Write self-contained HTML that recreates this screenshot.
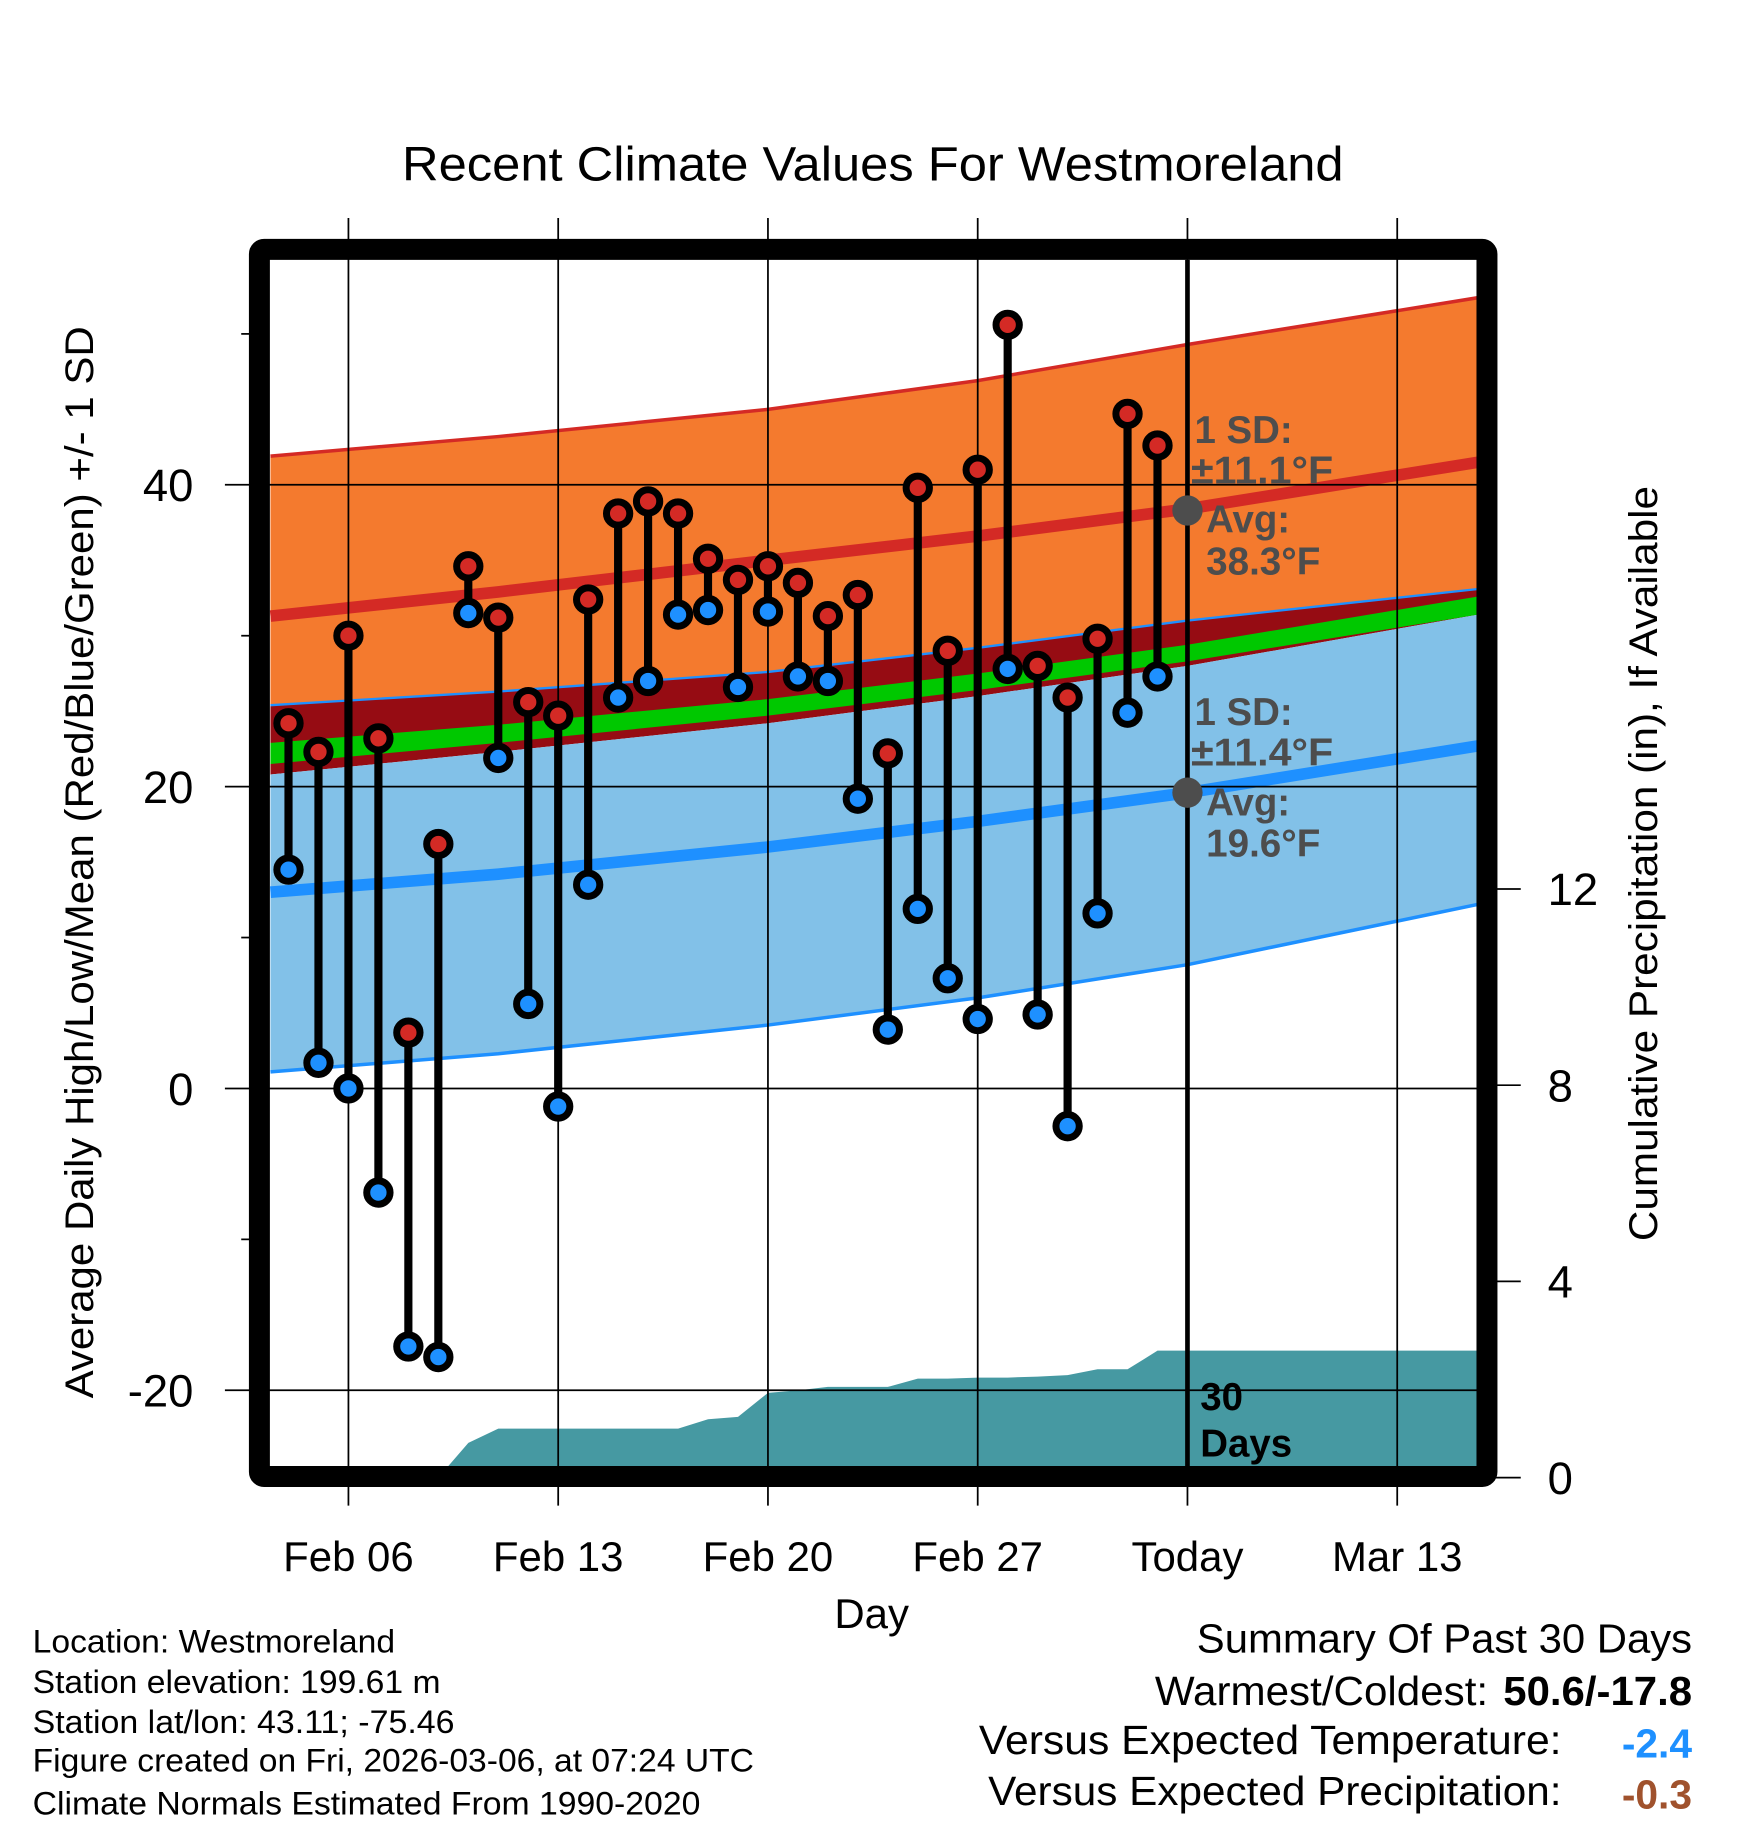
<!DOCTYPE html>
<html><head><meta charset="utf-8"><style>
html,body{margin:0;padding:0;background:#fff;}
svg{display:block;font-family:"Liberation Sans",Arial,sans-serif;}
</style></head><body>
<svg id="chart" width="1748" height="1828" viewBox="0 0 1500 1568.6" xmlns="http://www.w3.org/2000/svg">
<g id="bands"></g>
<g id="precip"></g>
<g id="grid"></g>
<g id="series"></g>
<g id="annot"></g>
<g id="axes"></g>
</svg>
<script>
// ---- data ----
const days = [-2,-1,0,1,2,3,4,5,6,7,8,9,10,11,12,13,14,15,16,17,18,19,20,21,22,23,24,25,26,27];
const highs = [24.2,22.3,30.0,23.2,3.7,16.2,34.6,31.2,25.6,24.7,32.4,38.1,38.9,38.1,35.1,33.7,34.6,33.5,31.3,32.7,22.2,39.8,29.0,41.0,50.6,28.0,25.9,29.8,44.7,42.6];
const lows = [14.5,1.7,0.0,-6.9,-17.1,-17.8,31.5,21.9,5.6,-1.2,13.5,25.9,27.0,31.4,31.7,26.6,31.6,27.3,27.0,19.2,3.9,11.9,7.3,4.6,27.8,4.9,-2.5,11.6,24.9,27.3];
const precip = [0,0,0,0,0,0,0.71,1.0,1.0,1.0,1.0,1.0,1.0,1.0,1.19,1.24,1.73,1.78,1.85,1.85,1.85,2.02,2.02,2.04,2.04,2.06,2.09,2.21,2.21,2.59];
const normDays = [-2.6,5,14,21,28,37.7];
const highPlus = [41.9,43.2,45.0,46.9,49.3,52.4];
const highMean = [31.3,32.9,35.0,36.6,38.4,41.5];
const highMinus = [25.4,26.3,27.6,29.2,31.0,33.1];
const greenTop = [22.9,24.1,25.8,27.5,29.4,32.6];
const greenBot = [21.5,22.9,24.7,26.4,28.3,31.4];
const lowPlus = [20.8,22.3,24.2,26.0,28.0,31.4];
const lowMean = [13.0,14.2,16.0,17.7,19.6,22.7];
const lowMinus = [1.1,2.3,4.2,6.0,8.2,12.2];
const xTickDays = [0,7,14,21,28,35];
const xTickLabels = ["Feb 06","Feb 13","Feb 20","Feb 27","Today","Mar 13"];
const yTicks = [40,20,0,-20];
const yMinor = [50,30,10,-10];
const pTicks = [0,4,8,12];

// ---- scales ----
const L=231.6,R=1268,T=223,B=1259;
const X=d=>299+25.714*d;
const Y=v=>934-12.95*v;
const P=p=>1268-42.1*p;
const NS="http://www.w3.org/2000/svg";
function mk(tag,attrs,parent){const e=document.createElementNS(NS,tag);for(const k in attrs)e.setAttribute(k,attrs[k]);parent.appendChild(e);return e;}
const g=id=>document.getElementById(id);
const line=(arr)=>arr.map((v,i)=>X(normDays[i]).toFixed(1)+","+Y(v).toFixed(1));
function band(top,bot,fill,name){
  const pts=line(top).concat(line(bot).reverse());
  const e=mk("polygon",{points:pts.join(" "),fill:fill},g("bands"));
  
  
}
const defs=mk("defs",{},g("chart"));
const cp=mk("clipPath",{id:"pc"},defs);
mk("rect",{x:L,y:T,width:R-L,height:B-T},cp);
g("bands").setAttribute("clip-path","url(#pc)");
g("precip").setAttribute("clip-path","url(#pc)");
band(highPlus,highMinus,"#f47a2e","high-sd-band");
band(highMinus,lowPlus,"#960c13","overlap-band");
band(greenTop,greenBot,"#00c800","mean-band");
band(lowPlus,lowMinus,"#82c1e8","low-sd-band");
function pl(arr,color,w,name){
  const e=mk("polyline",{points:line(arr).join(" "),fill:"none",stroke:color,"stroke-width":w},g("bands"));
  
  
}
pl(highPlus,"#d42a25",3,"high-plus-sd-line");
pl(highMean,"#d42a25",10,"mean-high-line");
pl(highMinus,"#1e90ff",2,"high-minus-sd-line");
pl(lowMean,"#1e90ff",10,"mean-low-line");
pl(lowMinus,"#1e90ff",3,"low-minus-sd-line");

{
  let pts=[L+","+P(0)];
  days.forEach((d,i)=>pts.push(X(d).toFixed(1)+","+P(precip[i]).toFixed(1)));
  pts.push(R+","+P(precip[precip.length-1]).toFixed(1));
  pts.push(R+","+P(0));
  const e=mk("polygon",{points:pts.join(" "),fill:"#4699a2"},g("precip"));
  
  
}

xTickDays.forEach(d=>{
  const e=mk("line",{x1:X(d),x2:X(d),y1:187,y2:1292,stroke:"#000","stroke-width":1.5},g("grid"));
  
  
});
yTicks.forEach(v=>{
  const e=mk("line",{x1:193,x2:R,y1:Y(v),y2:Y(v),stroke:"#000","stroke-width":1.5},g("grid"));
  
  
});
yMinor.forEach(v=>{
  const e=mk("line",{x1:207,x2:216,y1:Y(v),y2:Y(v),stroke:"#000","stroke-width":1.5},g("grid"));
  
  
});
pTicks.forEach(p=>{
  const e=mk("line",{x1:1280,x2:1305,y1:P(p),y2:P(p),stroke:"#000","stroke-width":1.5},g("grid"));
  
  
});
{
  const e=mk("line",{x1:X(28),x2:X(28),y1:T,y2:B,stroke:"#000","stroke-width":4},g("grid"));
  
  
}

days.forEach((d,i)=>{
  const e=mk("line",{x1:X(d),x2:X(d),y1:Y(highs[i]),y2:Y(lows[i]),stroke:"#000","stroke-width":7},g("series"));
  
  
});
days.forEach((d,i)=>{
  const h=mk("circle",{cx:X(d),cy:Y(highs[i]),r:10,fill:"#d42a25",stroke:"#000","stroke-width":6},g("series"));
  
  
  const l=mk("circle",{cx:X(d),cy:Y(lows[i]),r:10,fill:"#1e90ff",stroke:"#000","stroke-width":6},g("series"));
  
  
});
</script>
<script>
(function(){
const NS="http://www.w3.org/2000/svg";
const A=document.getElementById("annot"),AX=document.getElementById("axes");
function t(parent,x,y,txt,size,opts,name){
  const e=document.createElementNS(NS,"text");
  e.setAttribute("x",x);e.setAttribute("y",y);e.setAttribute("font-size",size);
  for(const k in (opts||{}))e.setAttribute(k,opts[k]);
  e.textContent=txt;parent.appendChild(e);
  
  
  return e;
}
const Xs=d=>299+25.714*d, Ys=v=>934-12.95*v;
[38.3,19.6].forEach(v=>{
  const c=document.createElementNS(NS,"circle");
  c.setAttribute("cx",Xs(28));c.setAttribute("cy",Ys(v));c.setAttribute("r",13);c.setAttribute("fill","#4d4d4d");
  A.appendChild(c);
  
  
});
const gb={fill:"#4d4d4d","font-weight":"bold"};
t(A,1025,380,"1 SD:",33,gb,"high-sd-label");
t(A,1022,415,"±11.1°F",33,Object.assign({textLength:122,lengthAdjust:"spacingAndGlyphs"},gb),"high-sd-value");
t(A,1035,457,"Avg:",33,gb,"high-avg-label");
t(A,1035,493,"38.3°F",33,Object.assign({textLength:98,lengthAdjust:"spacingAndGlyphs"},gb),"high-avg-value");
t(A,1025,622,"1 SD:",33,gb,"low-sd-label");
t(A,1022,657,"±11.4°F",33,Object.assign({textLength:122,lengthAdjust:"spacingAndGlyphs"},gb),"low-sd-value");
t(A,1035,700,"Avg:",33,gb,"low-avg-label");
t(A,1035,735,"19.6°F",33,Object.assign({textLength:98,lengthAdjust:"spacingAndGlyphs"},gb),"low-avg-value");
t(A,1030,1210,"30",33,{"font-weight":"bold"},"days-label-num");
t(A,1030,1250,"Days",33,{"font-weight":"bold"},"days-label");
const f=document.createElementNS(NS,"rect");
f.setAttribute("x",222.6);f.setAttribute("y",214);f.setAttribute("width",1276-222.6);f.setAttribute("height",1267-214);
f.setAttribute("fill","none");f.setAttribute("stroke","#000");f.setAttribute("stroke-width",18);f.setAttribute("rx",4);
AX.appendChild(f);


t(AX,749,155,"Recent Climate Values For Westmoreland",41,{"text-anchor":"middle",textLength:808,lengthAdjust:"spacingAndGlyphs"},"chart-title");
xTickDays.forEach((d,i)=>t(AX,Xs(d),1348,xTickLabels[i],36,{"text-anchor":"middle"},"x-tick-label"));
yTicks.forEach(v=>t(AX,166,Ys(v)+14,String(v),39,{"text-anchor":"end"},"y-tick-label"));
pTicks.forEach(p=>t(AX,1328,1268-42.1*p+14,String(p),39,{},"precip-tick-label"));
t(AX,748,1397,"Day",36,{"text-anchor":"middle"},"x-axis-title");
t(AX,0,0,"Average Daily High/Low/Mean (Red/Blue/Green) +/- 1 SD",34,{"text-anchor":"middle",transform:"translate(80,740) rotate(-90)",textLength:920,lengthAdjust:"spacingAndGlyphs"},"y-axis-title");
t(AX,0,0,"Cumulative Precipitation (in), If Available",34,{"text-anchor":"middle",transform:"translate(1422,741) rotate(-90)",textLength:648,lengthAdjust:"spacingAndGlyphs"},"precip-axis-title");
const info=["Location: Westmoreland","Station elevation: 199.61 m","Station lat/lon: 43.11; -75.46","Figure created on Fri, 2026-03-06, at 07:24 UTC","Climate Normals Estimated From 1990-2020"];
const infoW=[311,350,362,619,573];
const infoY=[1418,1453,1487,1520,1557];
info.forEach((s,i)=>t(AX,28,infoY[i],s,28,{textLength:infoW[i],lengthAdjust:"spacingAndGlyphs"},"info-line"));
t(AX,1452,1418,"Summary Of Past 30 Days",35,{"text-anchor":"end",textLength:425,lengthAdjust:"spacingAndGlyphs"},"summary-title");
t(AX,991,1463,"Warmest/Coldest:",35,{textLength:286,lengthAdjust:"spacingAndGlyphs"},"warmest-coldest");
t(AX,1452,1463,"50.6/-17.8",35,{"text-anchor":"end","font-weight":"bold",textLength:162,lengthAdjust:"spacingAndGlyphs"},"warmest-coldest-value");
t(AX,840,1505,"Versus Expected Temperature:",35,{textLength:500,lengthAdjust:"spacingAndGlyphs"},"temp-anomaly-label");
t(AX,1452,1508,"-2.4",35,{"text-anchor":"end",fill:"#1e90ff","font-weight":"bold"},"temp-anomaly-value");
t(AX,848,1549,"Versus Expected Precipitation:",35,{textLength:492,lengthAdjust:"spacingAndGlyphs"},"precip-anomaly-label");
t(AX,1452,1552,"-0.3",35,{"text-anchor":"end",fill:"#a0522d","font-weight":"bold"},"precip-anomaly-value");
})();
</script>
</body></html>
